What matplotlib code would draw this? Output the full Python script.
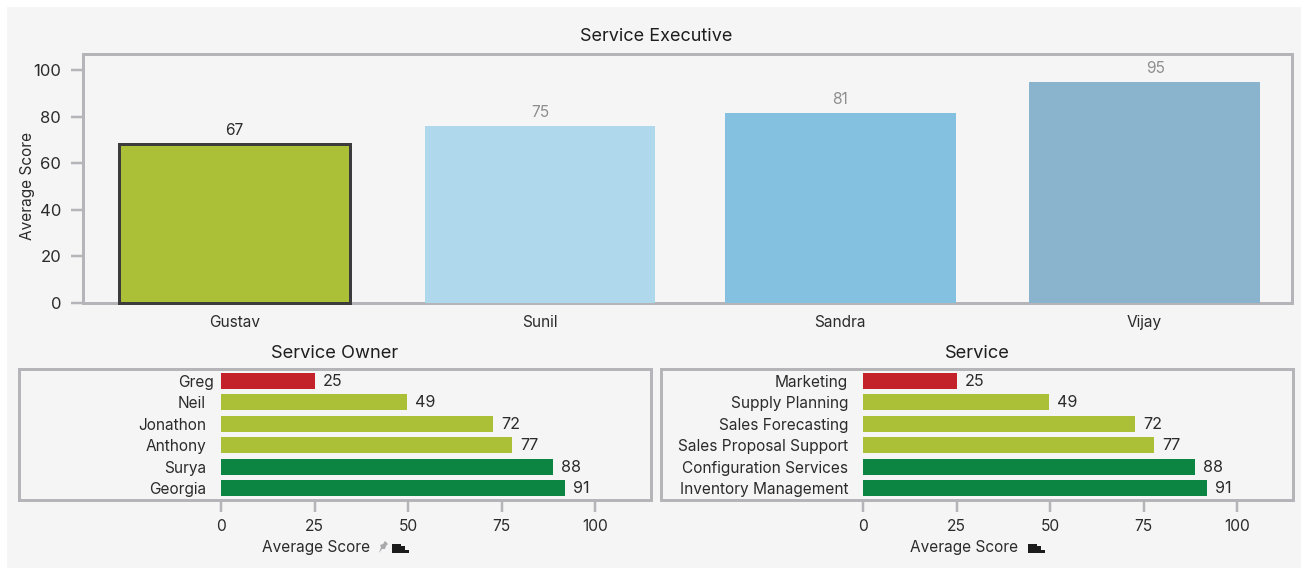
import matplotlib
matplotlib.use("Agg")
import matplotlib.pyplot as plt
from matplotlib.patches import Rectangle, Polygon
from matplotlib.transforms import ScaledTranslation

# data
executives = ["Gustav", "Sunil", "Sandra", "Vijay"]
exec_heights = [68.3, 76, 81.7, 95]
exec_labels = ["67", "75", "81", "95"]

owners = ["Greg", "Neil", "Jonathon", "Anthony", "Surya", "Georgia"]
services = ["Marketing", "Supply Planning", "Sales Forecasting", "Sales Proposal Support",
            "Configuration Services", "Inventory Management"]
score_bars = [25.1, 49.7, 72.7, 77.8, 88.8, 91.9]
score_labels = ["25", "49", "72", "77", "88", "91"]

# styles
exec_colors = ["#abc037", "#b0d8ec", "#84c1e0", "#8ab4ce"]
exec_label_colors = ["#2b2b2b", "#8e8e8e", "#8e8e8e", "#8e8e8e"]
exec_slots = [0, 1.007, 1.997, 3]
score_colors = ["#c4222a", "#abc037", "#abc037", "#abc037", "#0c8543", "#0c8543"]
frame_color = "#b4b4b9"
text_color = "#2b2b2b"
panel_color = "#f5f5f5"

W, H = 1301, 569
plt.rcParams["font.family"] = ["Inter", "DejaVu Sans"]
fig = plt.figure(figsize=(W / 100, H / 100), dpi=100, facecolor="white")
PX = 72 / 100


def axes_px(left, top, right, bottom):
    ax = fig.add_axes([left / W, 1 - bottom / H, (right - left) / W, (bottom - top) / H])
    ax.patch.set_alpha(0)
    for spine in ax.spines.values():
        spine.set_color(frame_color)
        spine.set_linewidth(3 * PX)
    return ax


def rect_px(x0, y0, x1, y1, color, zorder=2):
    fig.add_artist(Rectangle((x0 / W, 1 - y1 / H), (x1 - x0) / W, (y1 - y0) / H,
                             transform=fig.transFigure, facecolor=color, edgecolor="none",
                             zorder=zorder))


rect_px(7, 7, W, 568, panel_color, zorder=-5)

# top chart
ax = axes_px(83, 54, 1292, 303)
ax.set_xlim(-0.5, 3.486)
ax.set_ylim(0, 107)
bars = ax.bar(exec_slots, exec_heights, width=0.76, color=exec_colors, zorder=3, clip_on=False)
bars[0].set_edgecolor("#3c3c3c")
bars[0].set_linewidth(3 * PX)
for i, bar in enumerate(bars):
    shift = 11 if i == 3 else 0
    ax.annotate(exec_labels[i], (exec_slots[i], exec_heights[i]), xytext=(shift * PX, 6 * PX),
                textcoords="offset points", ha="center", va="bottom", fontsize=11.2,
                color=exec_label_colors[i])
ax.set_xticks(exec_slots, executives)
ax.set_yticks([0, 20, 40, 60, 80, 100])
ax.tick_params(axis="x", length=0, pad=12 * PX, labelsize=11.1, labelcolor=text_color)
ax.tick_params(axis="y", length=12 * PX, width=2.5 * PX, color=frame_color, pad=10 * PX,
               labelsize=12, labelcolor=text_color)
ax.set_ylabel("Average Score", fontsize=11.1, color=text_color)
ax.yaxis.set_label_coords((35 - 83) / 1209, (303 - 186) / 249)
ax.set_title("Service Executive", fontsize=13, color="#1e1e1e", pad=13 * PX, x=0.474)


def score_chart(frame_left, frame_right, title, names, label_x):
    ax = axes_px(frame_left, 369, frame_right, 500)
    ax.set_xlim(-54.1, 114.9)
    ax.set_ylim(5.56, -0.56)
    ax.barh(range(len(names)), score_bars, height=0.75, color=score_colors, zorder=3)
    for i, value in enumerate(score_bars):
        ax.annotate(score_labels[i], (value, i), xytext=(8 * PX, -0.5 * PX), textcoords="offset points",
                    ha="left", va="center", fontsize=11.6, color=text_color)
    ax.set_yticks(range(len(names)), names)
    ax.set_xticks([0, 25, 50, 75, 100])
    # names sit inside the frame, next to the zero line
    ax.tick_params(axis="y", length=0, pad=-(label_x - frame_left) * PX, labelsize=11.1,
                   labelcolor=text_color)
    ax.tick_params(axis="x", length=12 * PX, width=2.5 * PX, color=frame_color, pad=7 * PX,
                   labelsize=11.2, labelcolor=text_color)
    ax.set_xlabel("Average Score", fontsize=11.1, color=text_color)
    ax.set_title(title, fontsize=13.2, color="#1e1e1e", pad=11 * PX)
    return ax


left = score_chart(19, 651, "Service Owner", owners, 206)
left.xaxis.set_label_coords((316 - 19) / 632, -(540 - 500) / 131)
greg = left.get_yticklabels()[0]
greg.set_transform(greg.get_transform() + ScaledTranslation(8 / 100, 0, fig.dpi_scale_trans))

right = score_chart(661, 1293, "Service", services, 848)
right.xaxis.set_label_coords((964 - 661) / 632, -(540 - 500) / 131)

# little icons beside the axis captions
for x0 in (392, 1028):
    rect_px(x0, 543.5, x0 + 9, 546, "#1c1c1c")
    rect_px(x0, 546, x0 + 13, 550, "#1c1c1c")
    rect_px(x0, 550, x0 + 17, 553, "#1c1c1c")
pin = [(385, 541), (388, 544), (386, 546), (385, 549), (382, 549), (379, 553), (381, 547), (380, 545), (383, 544)]
fig.add_artist(Polygon([(x / W, 1 - y / H) for x, y in pin], closed=True,
                       transform=fig.transFigure, facecolor="#a9a9ad", edgecolor="none"))

fig.savefig("out.png", dpi=100)
